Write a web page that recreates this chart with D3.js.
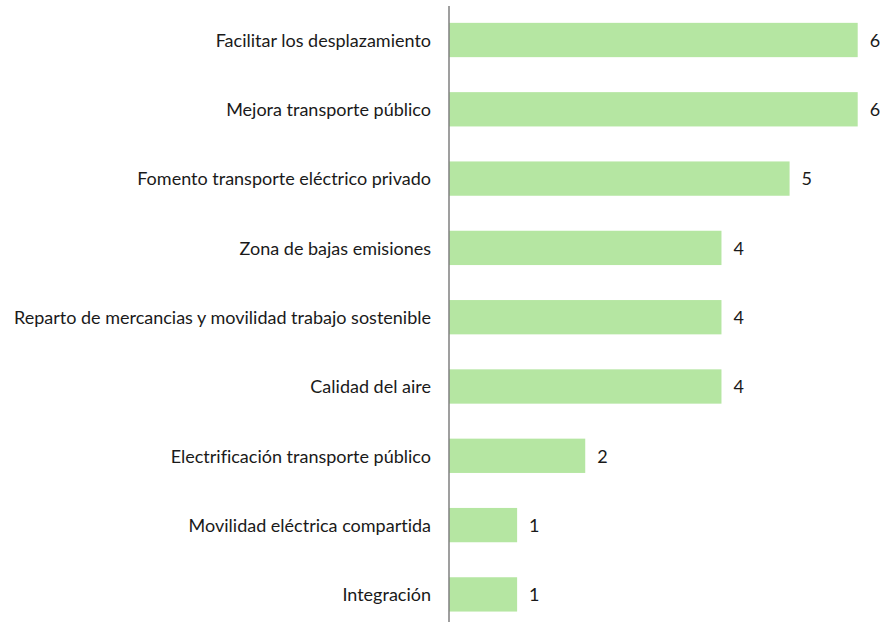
<!DOCTYPE html>
<html>
<head>
<meta charset="utf-8">
<script src="https://cdn.jsdelivr.net/npm/d3@7"></script>
<style>
  html, body { margin: 0; padding: 0; background: #fff; }
  svg { display: block; }
  text { font-variant-ligatures: none; font-feature-settings: "liga" 0, "clig" 0; }
</style>
</head>
<body>
<svg id="chart" width="880" height="622"></svg>
<script>
const categories = [
  "Facilitar los desplazamiento",
  "Mejora transporte público",
  "Fomento transporte eléctrico privado",
  "Zona de bajas emisiones",
  "Reparto de mercancias y movilidad trabajo sostenible",
  "Calidad del aire",
  "Electrificación transporte público",
  "Movilidad eléctrica compartida",
  "Integración"
];
const values = [6, 6, 5, 4, 4, 4, 2, 1, 1];

const svg = d3.select("#chart");
const font = "Lato, 'Noto Sans', sans-serif";

const x = d3.scaleLinear().domain([0, 6]).range([449, 857.7]);
const y = d3.scaleBand().domain(categories).range([5.35, 629.05])
  .paddingInner(0.505).paddingOuter(0.2525);

const data = categories.map((c, i) => ({ c, v: values[i] }));

svg.selectAll("rect.bar").data(data).enter().append("rect")
  .attr("class", "bar")
  .attr("x", x(0))
  .attr("y", d => y(d.c))
  .attr("width", d => x(d.v) - x(0))
  .attr("height", y.bandwidth())
  .attr("fill", "#b5e6a2");

// category axis
const yAxis = d3.axisLeft(y).tickSize(0).tickPadding(18);
const ag = svg.append("g").attr("transform", `translate(${x(0)},0)`).call(yAxis);
ag.select(".domain").remove();
ag.selectAll("text")
  .attr("font-family", font)
  .attr("font-size", "18px")
  .attr("dy", "0.38em")
  .attr("fill", "#1a1a1a");

svg.append("line")
  .attr("x1", x(0)).attr("x2", x(0))
  .attr("y1", 6).attr("y2", 622)
  .attr("stroke", "#7f7f7f").attr("stroke-width", 1.5);

svg.selectAll("text.val").data(data).enter().append("text")
  .attr("class", "val")
  .attr("x", d => x(d.v) + 12)
  .attr("y", d => y(d.c) + y.bandwidth() / 2)
  .attr("dy", "0.38em")
  .attr("font-family", font)
  .attr("font-size", "18px")
  .attr("fill", "#1a1a1a")
  .text(d => d.v);
</script>
</body>
</html>
